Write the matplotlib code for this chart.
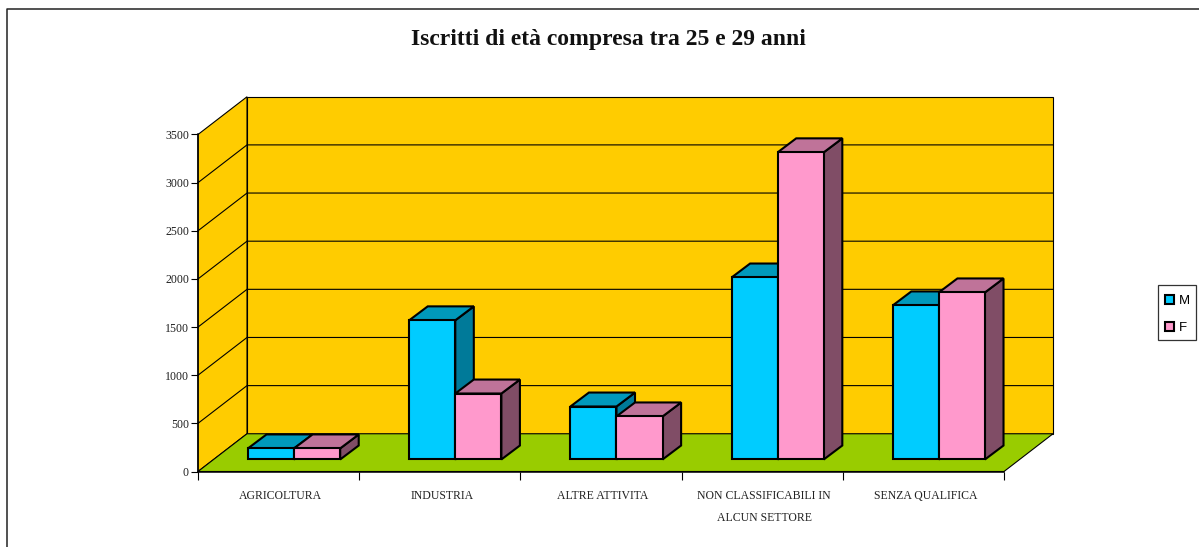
import matplotlib
matplotlib.use("Agg")
import matplotlib.pyplot as plt
from matplotlib.lines import Line2D
from matplotlib.patches import Patch, Polygon, Rectangle

categories = ["AGRICOLTURA", "INDUSTRIA", "ALTRE ATTIVITA",
              "NON CLASSIFICABILI IN\nALCUN SETTORE", "SENZA QUALIFICA"]
iscritti_m = [115, 1445, 550, 1890, 1600]
iscritti_f = [115, 685, 447, 3190, 1735]
y_ticks = [0, 500, 1000, 1500, 2000, 2500, 3000, 3500]

WALL = '#FFCC00'
FLOOR = '#99CC00'
COL_M = ('#00CCFF', '#0099BB', '#007A99')
COL_F = ('#FF99CC', '#BF7399', '#804D66')

# depth of the fake 3d box, in data units
DX, DY = 0.304, 392
# bars sit a bit inside the box
BAR_X, BAR_Y = 0.099, 125
BAR_DX, BAR_DY = 0.115, 145
OFFSET, WIDTH = 0.31, 0.286


def face(ax, pts, color, lw=0.8, z=1):
    ax.add_patch(Polygon(pts, closed=True, facecolor=color, edgecolor='black',
                         lw=lw, joinstyle='miter', clip_on=False, zorder=z))


def bar3d(ax, x0, h, cols, z):
    x, y = x0 + BAR_X, BAR_Y
    x1, top = x + WIDTH, y + h
    face(ax, [(x1, y), (x1 + BAR_DX, y + BAR_DY), (x1 + BAR_DX, top + BAR_DY), (x1, top)], cols[2], 1.5, z)
    face(ax, [(x, top), (x1, top), (x1 + BAR_DX, top + BAR_DY), (x + BAR_DX, top + BAR_DY)], cols[1], 1.5, z)
    face(ax, [(x, y), (x1, y), (x1, top), (x, top)], cols[0], 1.5, z)


fig = plt.figure(figsize=(11.99, 5.47), dpi=100, facecolor='white')
ax = fig.add_axes([198 / 1199, (547 - 471.5) / 547, 806 / 1199, 337 / 547])
ax.set_xlim(0, len(categories))
ax.set_ylim(0, 3500)
ax.set_facecolor('none')

n = len(categories)
ymax = y_ticks[-1]
# walls and floor
face(ax, [(DX, DY), (n + DX, DY), (n + DX, ymax + DY), (DX, ymax + DY)], WALL)
face(ax, [(0, 0), (DX, DY), (DX, ymax + DY), (0, ymax)], WALL)
face(ax, [(0, 0), (n, 0), (n + DX, DY), (DX, DY)], FLOOR)
for v in y_ticks[1:-1]:
    ax.plot([0, DX, n + DX], [v, v + DY, v + DY], color='black', lw=0.8, clip_on=False, zorder=2)

for i, (m, f) in enumerate(zip(iscritti_m, iscritti_f)):
    bar3d(ax, i + OFFSET - BAR_X, m, COL_M, 3 + i)
    bar3d(ax, i + OFFSET - BAR_X + WIDTH, f, COL_F, 3 + i)

for s in ['top', 'right']:
    ax.spines[s].set_visible(False)
for s in ['left', 'bottom']:
    ax.spines[s].set_linewidth(1.1)
    ax.spines[s].set_zorder(20)

ax.set_yticks(y_ticks)
ax.set_xticks(range(n + 1))
ax.set_xticklabels([])
ax.set_xticks([i + 0.512 for i in range(n)], labels=categories, minor=True)
ax.tick_params(axis='x', which='minor', length=0, pad=13.5)
ax.tick_params(axis='x', which='major', length=6, width=0.8)
ax.tick_params(axis='y', length=5, width=0.8, pad=1.5)
for lab in ax.get_xticklabels(minor=True):
    lab.set_fontfamily('Liberation Serif')
    lab.set_fontsize(8.5)
    lab.set_linespacing(2.1)
    lab.set_verticalalignment('top')
    lab.set_color('#222222')
for lab in ax.get_yticklabels():
    lab.set_fontfamily('Liberation Serif')
    lab.set_fontsize(8.6)
    lab.set_color('#222222')

fig.text(608.5 / 1199, 1 - 40 / 547, "Iscritti di età compresa tra 25 e 29 anni",
         family='Liberation Serif', fontweight='bold', fontsize=17,
         ha='center', va='center', color='#111111')

# outer chart frame runs off the image on the right and bottom
fig.add_artist(Line2D([6.5 / 1199, 6.5 / 1199, 1], [0, 1 - 9 / 547, 1 - 9 / 547],
                      color='#222222', lw=1.1))

# legend box is a bit roomier than the default one
fig.add_artist(Rectangle((1158 / 1199, 1 - 340 / 547), 38 / 1199, 55 / 547,
                         transform=fig.transFigure, facecolor='white',
                         edgecolor='#333333', lw=0.9))
handles = [Patch(facecolor=COL_M[0], edgecolor='black', lw=1.5, label='M'),
           Patch(facecolor=COL_F[0], edgecolor='black', lw=1.5, label='F')]
leg = fig.legend(handles=handles, loc='upper left',
                 bbox_to_anchor=(1165 / 1199, 1 - 294.5 / 547), borderaxespad=0,
                 prop={'family': 'Liberation Sans', 'size': 9.5}, frameon=False,
                 handlelength=0.7, handleheight=0.7,
                 handletextpad=0.38, labelspacing=1.17, borderpad=0)
leg.set_zorder(5)

fig.savefig("out.png", dpi=100)
